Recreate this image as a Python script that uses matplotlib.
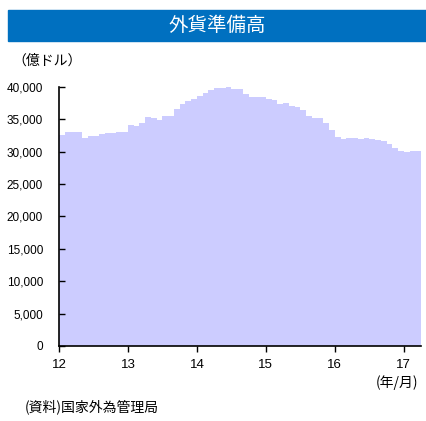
import numpy as np
import matplotlib.pyplot as plt
from matplotlib.patches import Rectangle
from matplotlib.ticker import FuncFormatter

plt.rcParams['font.family'] = ['Liberation Sans', 'Noto Sans CJK JP', 'DejaVu Sans']

# 外貨準備高（億ドル）, 2012/1 - 2017/3, 月次
reserves = [
    32536, 33096, 33050, 32989, 32061, 32400, 32400, 32729, 32851, 32874, 32977, 33116,
    34100, 33954, 34426, 35345, 35148, 34967, 35478, 35530, 36627, 37363, 37895, 38213,
    38666, 39137, 39480, 39788, 39839, 39932, 39662, 39688, 38877, 38529, 38473, 38430,
    38134, 38015, 37300, 37481, 37111, 36938, 36513, 35574, 35141, 35255, 34383, 33304,
    32309, 32023, 32126, 32197, 31917, 32051, 32011, 31852, 31664, 31206, 30516, 30105,
    29982, 30051, 30091,
]
year_labels = ['12', '13', '14', '15', '16', '17']
yticks = [0, 5000, 10000, 15000, 20000, 25000, 30000, 35000, 40000]

fig = plt.figure(figsize=(4.27, 4.21), dpi=100)

# タイトル帯
fig.patches.append(Rectangle((8 / 427, 1 - 41 / 421), 419 / 427, 31 / 421,
                             transform=fig.transFigure, color='#0070C0', zorder=0))
fig.text(217 / 427, 1 - 25 / 421, '外貨準備高', color='white', fontsize=14,
         family=['Noto Sans CJK JP'], ha='center', va='center')

ax = fig.add_axes([59 / 427, 75 / 421, 362 / 427, 259 / 421])
months = np.arange(len(reserves))
ax.bar(months, reserves, width=1.0, align='edge', color='#CCCCFF', linewidth=0)

ax.set_xlim(0, len(reserves))
ax.set_ylim(0, 40000)
ax.set_xticks(np.arange(0, 61, 12))
ax.set_xticklabels(year_labels)
ax.set_yticks(yticks)
ax.yaxis.set_major_formatter(FuncFormatter(lambda v, p: '{:,.0f}'.format(v)))
ax.tick_params(axis='x', direction='out', length=4, width=1, labelsize=9.5, pad=5)
ax.tick_params(axis='y', direction='in', length=4, width=1, labelsize=8.5, pad=11.5)
for s in ['top', 'right']:
    ax.spines[s].set_visible(False)
for s in ['left', 'bottom']:
    ax.spines[s].set_linewidth(1.2)

fig.text(12 / 427, 1 - 61 / 421, '（億ドル）', fontsize=10, family=['Noto Sans CJK JP'],
         ha='left', va='center')
fig.text(418 / 427, 1 - 383 / 421, '(年/月)', fontsize=10, family=['Noto Sans CJK JP'],
         ha='right', va='center')
fig.text(25 / 427, 1 - 407 / 421, '(資料)国家外為管理局', fontsize=10, family=['Noto Sans CJK JP'],
         ha='left', va='center')

plt.savefig('out.png', dpi=100)
